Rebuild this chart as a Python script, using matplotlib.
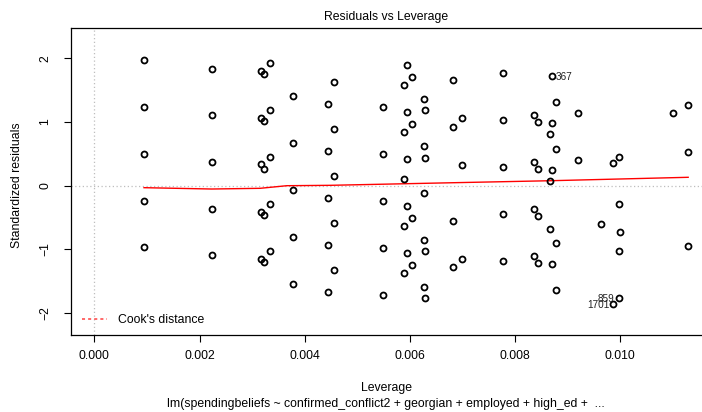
import matplotlib
matplotlib.use("Agg")
import matplotlib.pyplot as plt
from matplotlib.lines import Line2D

plt.rcParams['font.family'] = ['Liberation Sans', 'DejaVu Sans']

# Leverage of each observation (grouped by column)
leverage = [
    0.000945, 0.000945, 0.000945, 0.000945, 0.000945,
    0.00224, 0.00224, 0.00224, 0.00224, 0.00224,
    0.003163, 0.003163, 0.003163, 0.003163, 0.003163,
    0.003232, 0.003232, 0.003232, 0.003232, 0.003232,
    0.00334, 0.00334, 0.00334, 0.00334, 0.00334,
    0.003772, 0.003772, 0.003772, 0.003772, 0.003772,
    0.004449, 0.004449, 0.004449, 0.004449, 0.004449,
    0.004551, 0.004551, 0.004551, 0.004551, 0.004551,
    0.005483, 0.005483, 0.005483, 0.005483, 0.005483,
    0.005894, 0.005894, 0.005894, 0.005894, 0.005894,
    0.005951, 0.005951, 0.005951, 0.005951, 0.005951,
    0.00604, 0.00604, 0.00604, 0.00604,
    0.006274, 0.006274, 0.006274, 0.006274, 0.006274,
    0.00628, 0.00628, 0.00628, 0.00628,
    0.006825, 0.006825, 0.006825, 0.006825,
    0.00699, 0.00699, 0.00699,
    0.007764, 0.007764, 0.007764, 0.007764, 0.007764,
    0.008359, 0.008359, 0.008359, 0.008359,
    0.008435, 0.008435, 0.008435, 0.008435,
    0.008654, 0.008654, 0.008654,
    0.008696, 0.008696, 0.008696, 0.008696,
    0.008783, 0.008783, 0.008783, 0.008783,
    0.009196, 0.009196,
    0.009639,
    0.009867, 0.009867,
    0.009975, 0.009975, 0.009975, 0.009975,
    0.01000,
    0.011008,
    0.011293, 0.011293, 0.011293,
]

# Standardized residuals, same order as leverage
std_resid = [
    1.97, 1.24, 0.50, -0.24, -0.97,
    1.84, 1.11, 0.38, -0.36, -1.09,
    1.805, 1.067, 0.336, -0.408, -1.146,
    1.749, 1.010, 0.270, -0.466, -1.200,
    1.926, 1.188, 0.455, -0.283, -1.020,
    1.403, 0.666, -0.072, -0.805, -1.543,
    1.278, 0.540, -0.193, -0.931, -1.670,
    1.623, 0.890, 0.152, -0.586, -1.325,
    1.231, 0.498, -0.245, -0.983, -1.716,
    1.576, 0.838, 0.100, -0.638, -1.376,
    1.890, 1.152, 0.414, -0.323, -1.061,
    1.702, 0.964, -0.512, -1.250,
    1.361, 0.623, -0.115, -0.857, -1.590,
    1.184, 0.440, -1.030, -1.768,
    1.664, 0.926, -0.549, -1.281,
    1.058, 0.320, -1.155,
    1.765, 1.031, 0.294, -0.449, -1.187,
    1.110, 0.372, -0.370, -1.108,
    1.005, 0.267, -0.471, -1.209,
    0.807, 0.069, -0.675,
    1.722, 0.984, 0.246, -1.229,
    1.319, 0.581, -0.895, -1.633,
    1.137, 0.399,
    -0.597,
    0.356, -1.862,
    0.455, -0.283, -1.020, -1.758,
    -0.727,
    1.146,
    1.272, 0.534, -0.947,
]

# Smoothed (lowess) red line
smooth_lev = [0.000945, 0.00223, 0.00315, 0.00366, 0.00448, 0.00683, 0.00866, 0.01129]
smooth_res = [-0.031, -0.052, -0.041, 0.0, 0.006, 0.047, 0.078, 0.132]

# Labelled observations: (id, leverage, residual, side)
labels = [("367", 0.008696, 1.722, "right"),
          ("859", 0.009975, -1.758, "left"),
          ("1701", 0.009867, -1.862, "left")]

xticks = [0.000, 0.002, 0.004, 0.006, 0.008, 0.010]
xticklabels = ["0.000", "0.002", "0.004", "0.006", "0.008", "0.010"]
yticks = [-2, -1, 0, 1, 2]

W, H = 702, 412
fig = plt.figure(figsize=(W / 100, H / 100), dpi=100)
ax = fig.add_axes([71 / W, (H - 335) / H, (708 - 71) / W, (335 - 28) / H])

fs = 8.8

# reference lines
ax.axhline(0, color="#BEBEBE", ls=(0, (1, 2)), lw=0.9, zorder=1)
ax.axvline(0, color="#BEBEBE", ls=(0, (1, 2)), lw=0.9, zorder=1)

ax.plot(leverage, std_resid, ls="none", marker="o", ms=4.3, mfc="none",
        mec="black", mew=1.3, zorder=3)
ax.plot(smooth_lev, smooth_res, color="red", lw=1.0, zorder=2)

for txt, lx, ly, side in labels:
    if side == "right":
        ax.annotate(txt, (lx, ly), xytext=(3, -0.5), textcoords="offset points",
                    ha="left", va="center", fontsize=7.2, color="#222222")
    else:
        ax.annotate(txt, (lx, ly), xytext=(-3, -0.8), textcoords="offset points",
                    ha="right", va="center", fontsize=7.2, color="#222222")

ax.set_xlim(-0.000443, 0.011667)
ax.set_ylim(-2.344, 2.476)

ax.set_xticks(xticks)
ax.set_xticklabels(xticklabels)
ax.set_yticks(yticks)
ax.set_yticklabels([str(v).replace("-", "\u2212") for v in yticks], rotation=90, va="center")
ax.tick_params(axis="x", length=5, width=0.8, pad=6, labelsize=fs)
ax.tick_params(axis="y", length=5, width=0.8, pad=9, labelsize=fs)
for s in ax.spines.values():
    s.set_linewidth(0.9)

leg = ax.legend(handles=[Line2D([], [], color="#FF4040", ls=(0, (2, 2)), lw=1.1)],
                labels=["Cook's distance"], loc="center left",
                bbox_to_anchor=((82 - 71) / 637, (335 - 320) / 307),
                frameon=False, fontsize=fs, borderpad=0, borderaxespad=0,
                handlelength=2.05, handletextpad=0.9)

fig.text(386.5 / W, 1 - 17 / H, "Residuals vs Leverage", ha="center", va="center", fontsize=fs)
fig.text(386 / W, 1 - 388 / H, "Leverage", ha="center", va="center", fontsize=fs)
fig.text(386 / W, 1 - 404 / H,
         "lm(spendingbeliefs ~ confirmed_conflict2 + georgian + employed + high_ed +  ...",
         ha="center", va="center", fontsize=fs)
fig.text(17 / W, 1 - 185 / H, "Standardized residuals", ha="center", va="center",
         rotation=90, fontsize=fs)

fig.savefig("out.png", dpi=100)
